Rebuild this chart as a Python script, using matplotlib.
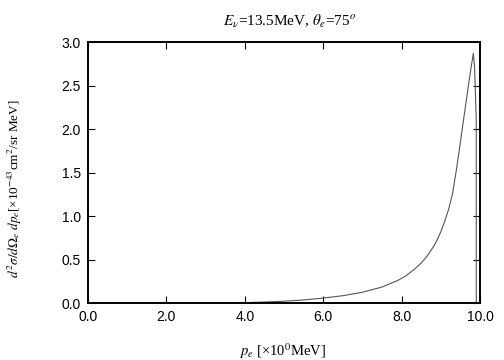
import numpy as np
import matplotlib
matplotlib.use("Agg")
import matplotlib.pyplot as plt

# electron momentum (x10^0 MeV) and cross section values
p_e = [3.57, 4.0, 4.5, 5.0, 5.5, 6.0, 6.5, 7.0, 7.5, 7.9, 8.1, 8.3, 8.5, 8.65,
       8.8, 8.9, 9.0, 9.1, 9.2, 9.3, 9.4, 9.5, 9.6, 9.7, 9.78, 9.83, 9.86,
       9.88, 9.905, 9.905]
xsec = [0.0, 0.005, 0.013, 0.022, 0.036, 0.058, 0.085, 0.125, 0.185, 0.26,
        0.31, 0.38, 0.46, 0.54, 0.64, 0.72, 0.82, 0.94, 1.08, 1.26, 1.54, 1.85,
        2.17, 2.49, 2.73, 2.87, 2.72, 2.45, 2.1, 0.0]

x_ticks = [0, 2, 4, 6, 8, 10]
y_ticks = [0.0, 0.5, 1.0, 1.5, 2.0, 2.5, 3.0]

plt.rcParams['mathtext.fontset'] = 'stix'
serif = ['Liberation Serif', 'DejaVu Serif']
sans = ['Liberation Sans', 'DejaVu Sans']

fig = plt.figure(figsize=(5.04, 3.6), dpi=100)
ax = fig.add_axes([0.1746, 0.158, 0.7778, 0.725])

ax.plot(p_e, xsec, color='#555555', lw=0.8)

ax.set_xlim(0, 10)
ax.set_ylim(0, 3.0)
ax.set_xticks(x_ticks)
ax.set_yticks(y_ticks)
ax.set_xticklabels([f"{v:.1f}" for v in x_ticks], family=sans, fontsize=10)
ax.set_yticklabels([f"{v:.1f}" for v in y_ticks], family=sans, fontsize=10)
ax.tick_params(direction='in', length=5, width=0.8, top=True, right=True, pad=5)
for s in ax.spines.values():
    s.set_linewidth(1.4)

ax.set_title(r"$E_\nu$=13.5MeV, $\theta_e$=75$^o$", family=serif, fontsize=11,
             pad=12, x=0.515)
ax.set_xlabel(r"$p_e$ [×10$^0$MeV]", family=serif, fontsize=10.5)
ax.xaxis.set_label_coords(0.497, -0.145)
ax.set_ylabel(r"$d^2\sigma/d\Omega_e\ dp_e$[×10$^{-43}$cm$^2$/sr MeV]", family=serif,
              fontsize=9.5)
ax.yaxis.set_label_coords(-0.163, 0.44)

fig.savefig("out.png", dpi=100)
